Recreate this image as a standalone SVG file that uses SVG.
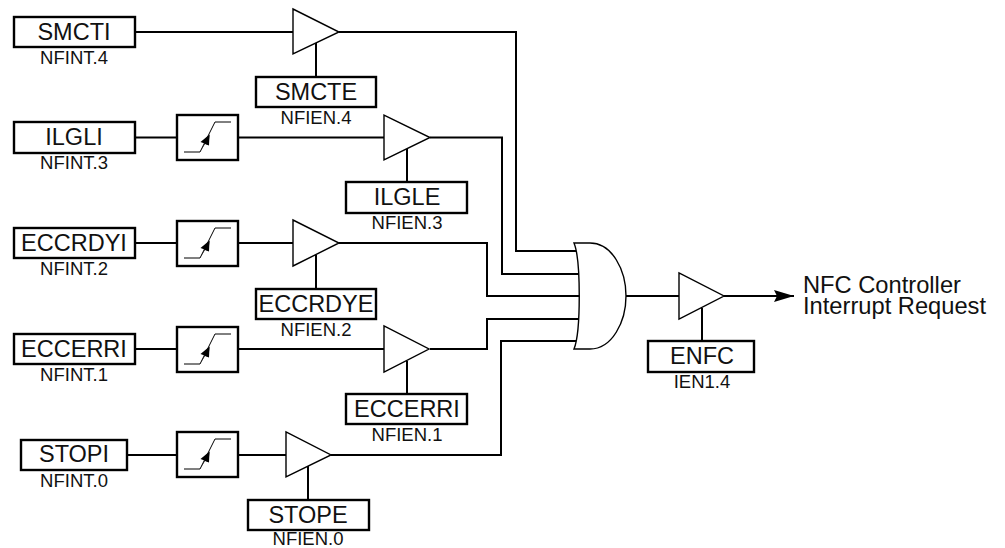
<svg xmlns="http://www.w3.org/2000/svg" width="1005" height="548" viewBox="0 0 1005 548">
<style>
text{font-family:"Liberation Sans",Arial,sans-serif;fill:#111;text-anchor:middle}
.n{font-size:23.5px}.s{font-size:18.5px}
.o{font-size:23.7px;text-anchor:start}
.b{fill:#fff;stroke:#000;stroke-width:2.4}
.t{fill:#fff;stroke:#000;stroke-width:1.4;stroke-linejoin:miter}
.w{fill:none;stroke:#000;stroke-width:2}
.c{fill:none;stroke:#000;stroke-width:1}
</style>
<defs>
<g id="filter">
<rect class="b" x="0" y="0" width="61" height="45"/>
<path class="c" d="M7,37H23L38,7H54"/>
<path d="M23,37L32.500,19.500L32,30.500L28,29Z" fill="#000"/>
<path d="M32.500,19.500L23.500,27L31.500,30Z" fill="#000"/>
</g>
<marker id="ah" markerUnits="userSpaceOnUse" markerWidth="22" markerHeight="14" refX="20" refY="6.500" orient="auto"><path d="M0,0.500L20,6.500L0,12.500L3,6.500Z" fill="#000"/></marker>
</defs>
<g id="connectors">
<path class="w" d="M135,32H293M339,32H516V251H578"/>
<path class="w" d="M316,43V77"/>
<path class="w" d="M135,137.500H177M238,137.500H384M430,137.500H502V274H581"/>
<path class="w" d="M407,149V182"/>
<path class="w" d="M135,243H177M238,243H293M339,243H487V296H581"/>
<path class="w" d="M316,255V289"/>
<path class="w" d="M135,349H177M238,349H384M430,349H487V319H581"/>
<path class="w" d="M407,361V394"/>
<path class="w" d="M127,455H177M238,455H286M331,455H501V341H576"/>
<path class="w" d="M308,466V500"/>
<path class="w" d="M626,296H679"/>
<path class="w" d="M702,308V341"/>
<path class="w" d="M724,296H794" marker-end="url(#ah)"/>
</g>
<g id="SMCTI"><rect class="b" x="14" y="17" width="121" height="30"/><text class="n" x="74" y="40">SMCTI</text><text class="s" x="74" y="63.500">NFINT.4</text></g>
<g id="ILGLI"><rect class="b" x="14" y="122" width="121" height="31"/><text class="n" x="74" y="145">ILGLI</text><text class="s" x="74" y="169">NFINT.3</text></g>
<g id="ECCRDYI"><rect class="b" x="14" y="228" width="121" height="30"/><text class="n" x="74" y="251">ECCRDYI</text><text class="s" x="74" y="275">NFINT.2</text></g>
<g id="ECCERRI-in"><rect class="b" x="14" y="334" width="121" height="30"/><text class="n" x="74" y="357">ECCERRI</text><text class="s" x="74" y="381">NFINT.1</text></g>
<g id="STOPI"><rect class="b" x="21" y="440" width="106" height="30"/><text class="n" x="74" y="462">STOPI</text><text class="s" x="74" y="487">NFINT.0</text></g>
<g id="filter3"><use href="#filter" x="177" y="115"/></g>
<g id="filter2"><use href="#filter" x="177" y="221"/></g>
<g id="filter1"><use href="#filter" x="177" y="327"/></g>
<g id="filter0"><use href="#filter" x="177" y="432"/></g>
<g id="buf4"><path class="t" d="M293,9V54L339,32Z"/></g>
<g id="buf3"><path class="t" d="M384,115V160L430,137.500Z"/></g>
<g id="buf2"><path class="t" d="M293,220V266L339,243Z"/></g>
<g id="buf1"><path class="t" d="M384,326V372L429,349Z"/></g>
<g id="buf0"><path class="t" d="M286,432V477L331,455Z"/></g>
<g id="bufout"><path class="t" d="M679,273V319L724,296Z"/></g>
<g id="SMCTE"><rect class="b" x="256" y="77" width="120" height="30"/><text class="n" x="316" y="100">SMCTE</text><text class="s" x="316" y="124">NFIEN.4</text></g>
<g id="ILGLE"><rect class="b" x="346" y="182" width="121" height="31"/><text class="n" x="407" y="205">ILGLE</text><text class="s" x="407" y="229">NFIEN.3</text></g>
<g id="ECCRDYE"><rect class="b" x="256" y="289" width="120" height="30"/><text class="n" x="316" y="312">ECCRDYE</text><text class="s" x="316" y="336">NFIEN.2</text></g>
<g id="ECCERRI-en"><rect class="b" x="346" y="394" width="121" height="30"/><text class="n" x="407" y="417">ECCERRI</text><text class="s" x="407" y="441">NFIEN.1</text></g>
<g id="STOPE"><rect class="b" x="248" y="500" width="121" height="30"/><text class="n" x="308" y="523">STOPE</text><text class="s" x="308" y="545">NFIEN.0</text></g>
<g id="ENFC"><rect class="b" x="648" y="341" width="106" height="31"/><text class="n" x="702" y="364">ENFC</text><text class="s" x="702" y="388">IEN1.4</text></g>
<g id="or"><path d="M574,243H590C612,243 626,270 626,296C626,322 612,349 590,349H574C581,332 581,260 574,243Z" fill="#fff" stroke="#000" stroke-width="1.400"/></g>
<g id="output-label"><text class="o" x="803" y="293">NFC Controller</text><text class="o" x="803" y="314">Interrupt Request</text></g>
</svg>
